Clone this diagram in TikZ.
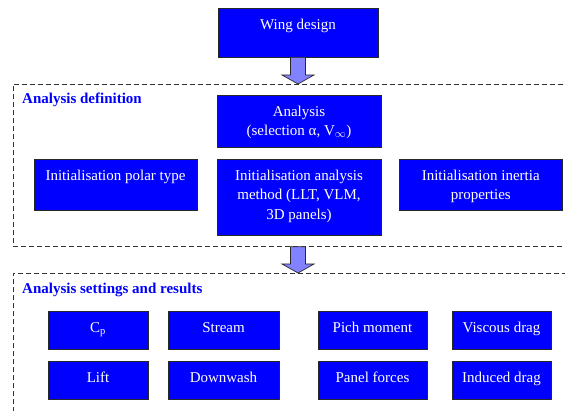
\documentclass[tikz,border=0pt]{standalone}
\usepackage{fontspec}
\setmainfont{Liberation Serif}
\usetikzlibrary{calc,positioning}
\definecolor{boxblue}{RGB}{0,0,255}
\definecolor{boxedge}{RGB}{40,40,40}
\definecolor{arrowfill}{RGB}{130,130,255}
\definecolor{dashgray}{RGB}{50,50,50}
\newcommand{\diagfont}{\fontsize{15}{19.5}\selectfont}
% block arrow from a tail point down to a tip point
\newcommand{\blockarrow}[2]{%
  \draw[blockarrow] ($(#1)+(-7.5,0)$) -- ($(#2)+(-7.5,-9)$) -- ($(#2)+(-16,-9)$) -- (#2)
    -- ($(#2)+(16,-9)$) -- ($(#2)+(7.5,-9)$) -- ($(#1)+(7.5,0)$) -- cycle;}

\begin{document}
\begin{tikzpicture}[x=1pt, y=-1pt,
    groupbox/.style={draw=dashgray, dash pattern=on 5pt off 3pt, line width=0.7pt, inner sep=0pt, anchor=north west},
    grouplabel/.style={text=boxblue, font=\diagfont\bfseries, anchor=west, inner sep=0pt},
    bluebox/.style={draw=boxedge, fill=boxblue, line width=0.7pt, inner sep=0pt, text=white, font=\diagfont},
    boxtext/.style={text=white, font=\diagfont, align=center, anchor=north, inner xsep=0pt, inner ysep=11pt},
    resultbox/.style={bluebox, minimum width=100pt, minimum height=38pt, text height=10.5pt, text depth=6pt},
    blockarrow/.style={draw=boxedge, fill=arrowfill, line width=0.7pt}
  ]
  \useasboundingbox (0,0) rectangle (565,411);

  % dashed groups
  \node[groupbox, minimum width=562pt, minimum height=162pt] (defbox) at (13,84) {};
  \node[groupbox, minimum width=562pt, minimum height=150pt] (resbox) at (13,273) {};
  \node[grouplabel] (deflabel) at ($(defbox.north west)+(9,16)$) {Analysis definition};
  \node[grouplabel] (reslabel) at ($(resbox.north west)+(9,17)$) {Analysis settings and results};

  % design and analysis definition
  \node[bluebox, minimum width=160pt, minimum height=49pt, label={[boxtext]north:Wing design}] (wing) at (298,32.5) {};
  \node[bluebox, minimum width=164pt, minimum height=52pt, label={[boxtext]north:{Analysis\\(selection α, V\textsubscript{$\infty$})}}] (analysis) at (299,121) {};
  \node[bluebox, minimum width=163pt, minimum height=51pt, label={[boxtext]north:Initialisation polar type}] (polar) at (115.5,184.5) {};
  \node[bluebox, minimum width=164pt, minimum height=76pt, label={[boxtext]north:{Initialisation analysis\\method (LLT, VLM,\\3D panels)}}] (method) at (299,197) {};
  \node[bluebox, minimum width=163pt, minimum height=51pt, label={[boxtext]north:{Initialisation inertia\\properties}}] (inertia) at (480.75,184.5) {};

  % results
  \node[resultbox] (cp) at (98,330) {C\textsubscript{p}};
  \node[resultbox, minimum width=111pt] (stream) at (223.5,330) {Stream};
  \node[resultbox, minimum width=109pt] (pich) at (372.5,330) {Pich moment};
  \node[resultbox, minimum width=99pt] (viscous) at (501.5,330) {Viscous drag};
  \node[resultbox, below=12pt of cp] (lift) {Lift};
  \node[resultbox, minimum width=111pt, below=12pt of stream] (downwash) {Downwash};
  \node[resultbox, minimum width=109pt, below=12pt of pich] (panel) {Panel forces};
  \node[resultbox, minimum width=99pt, below=12pt of viscous] (induced) {Induced drag};

  % arrows between stages
  \coordinate (tip1) at (defbox.north -| wing.south);
  \coordinate (tail2) at (defbox.south -| wing.south);
  \coordinate (tip2) at (resbox.north -| wing.south);
  \blockarrow{wing.south}{tip1}
  \blockarrow{tail2}{tip2}
\end{tikzpicture}
\end{document}
